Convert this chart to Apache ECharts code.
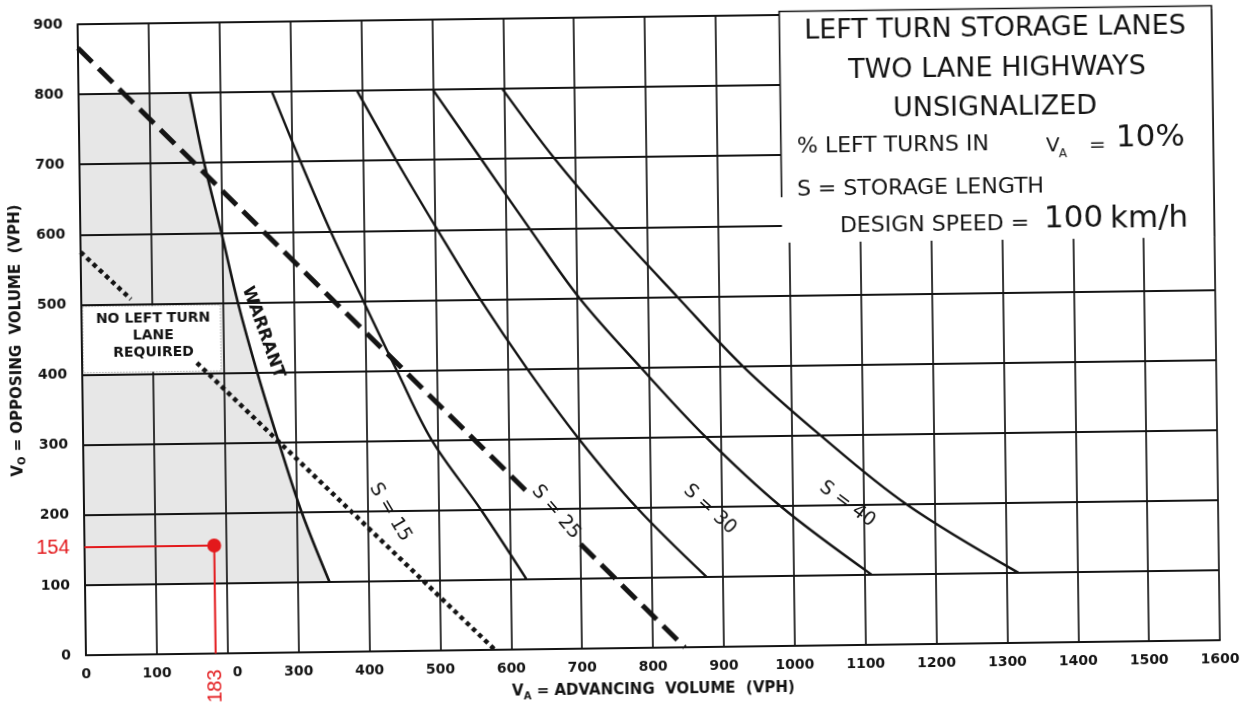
<!DOCTYPE html>
<html>
<head>
<meta charset="utf-8">
<script src="https://cdn.jsdelivr.net/npm/echarts@6/dist/echarts.min.js"></script>
<style>
html,body{margin:0;padding:0;background:#fff;overflow:hidden;}
#c{width:1259px;height:708px;transform:rotate(-0.76deg);transform-origin:50% 50%;}
</style>
</head>
<body>
<div id="c"></div>
<script>
// ---------- data ----------
const xTicks = [0,100,200,300,400,500,600,700,800,900,1000,1100,1200,1300,1400,1500,1600];
const xTickLabels = ['0','100','200','300','400','500','600','700','800','900','1000','1100','1200','1300','1400','1500','1600'];
const yTicks = [0,100,200,300,400,500,600,700,800,900];
const yTickLabels = ['0','100','200','300','400','500','600','700','800','900'];

// warrant curve (VA, VO)
const warrant = [[157,800],[176,700],[199,600],[221,500],[247,400],[276,300],[307,200],[345,100]];
// storage-length curves
const curveA = [[273,800],[312,700],[353,600],[398,500],[444,400],[492,300],[560,200],[623,100]];
const curveB = [[393,800],[447,700],[504,600],[563,500],[628,400],[699,300],[780,200],[877,100]];
const curveC = [[500,800],[567,700],[634,600],[703,500],[788,400],[878,300],[982,200],[1110,100]];
const curveD = [[598,800],[670,700],[752,600],[841,500],[932,400],[1040,300],[1160,200],[1317,100]];
// heavy dashed line (broken for its label)
const dashedPart1 = [[0,866],[632,218]];
const dashedPart2 = [[700,149],[845,0]];
// dotted line (broken for the text)
const dottedPart1 = [[0,575],[70,507]];
const dottedPart2 = [[162,415],[577,0]];
// shaded "no left turn lane" region: left edge + warrant curve
const shadeEdge = [[0,100],[0,800]];
const noLaneBox = [[2,403],[196,497]];

// curve labels
const curveLabelText = ['WARRANT','S = 15','S = 25','S = 30','S = 40'];
const curveLabelPos = [[256,457],[432,198],[666,195],[883,196],[1077,201]];
const curveLabelRotate = [-71,-60,-50,-43,-37];
const noLaneText = 'NO LEFT TURN\nLANE\nREQUIRED';
const noLanePos = [101,455];

// red reading
const readPoint = [183,154];

// title box extent (data units)
const titleBox = {x0: 990, x1: 1600, y0: 575, y1: 905, yBorder: 640};

// ---------- chart ----------
const FONT = '"DejaVu Sans", "Noto Sans", sans-serif';
const INK = '#141414';
const RED = '#e3191c';
const W = 1259, H = 708, TILT = 0.76 * Math.PI / 180;
// page is tilted like the scan: map a page pixel back into the chart frame
function unTilt(x, y) {
  const cx = W / 2, cy = H / 2, dx = x - cx, dy = y - cy;
  const c = Math.cos(TILT), s = Math.sin(TILT);
  return [cx + dx * c - dy * s, cy + dx * s + dy * c];
}
const chart = echarts.init(document.getElementById('c'));

function lineSeries(name, data, style) {
  return {
    type: 'line', name: name, data: data, symbol: 'none', z: 3,
    smooth: style.smooth || 0, clip: false,
    lineStyle: Object.assign({color: INK, width: 2.4, cap: 'butt'}, style.line || {}),
    silent: true, animation: false
  };
}

function titleText(text, px, py, size, align) {
  const p = unTilt(px, py);
  return {type: 'text', x: p[0], y: p[1], z: 10,
    style: {text: text, font: size + 'px ' + FONT, fill: INK,
      textAlign: align, textVerticalAlign: 'middle', align: align, verticalAlign: 'middle'}};
}

const shadePolygon = shadeEdge.concat(warrant);

const labelData = curveLabelText.map((t, i) => ({
  value: curveLabelPos[i],
  label: {
    show: true, formatter: t, position: 'inside', rotate: curveLabelRotate[i],
    fontSize: i === 0 ? 17 : 19, fontWeight: i === 0 ? 'bold' : 'normal',
    fontFamily: FONT, color: INK
  }
}));
labelData.push({
  value: noLanePos,
  label: {
    show: true, formatter: noLaneText, position: 'inside', align: 'center',
    fontSize: 14, fontWeight: 'bold', lineHeight: 17, fontFamily: FONT, color: INK
  }
});

const axisNameRich = {
  v: {fontSize: 15, fontWeight: 'bold', fontFamily: FONT, color: INK, lineHeight: 19, verticalAlign: 'middle'},
  s: {fontSize: 10, fontWeight: 'bold', fontFamily: FONT, color: INK, verticalAlign: 'bottom'}
};

const option = {
  animation: false,
  backgroundColor: '#fff',
  grid: {left: 82, right: 43, top: 17, bottom: 60, containLabel: false},
  xAxis: {
    type: 'value', min: 0, max: 1600, interval: 100, z: 1,
    axisLine: {show: true, lineStyle: {color: INK, width: 2}},
    axisTick: {show: false},
    splitLine: {show: true, lineStyle: {color: INK, width: 1.7}},
    axisLabel: {
      margin: 12, color: INK, fontSize: 14, fontWeight: 'bold', fontFamily: FONT,
      formatter: v => { const i = xTicks.indexOf(v); return i >= 0 ? xTickLabels[i] : ''; }
    },
    name: '{v|V}{s|A}{v| = ADVANCING  VOLUME  (VPH)}',
    nameLocation: 'middle', nameGap: 33,
    nameTextStyle: {rich: axisNameRich}
  },
  yAxis: {
    type: 'value', min: 0, max: 900, interval: 100, z: 1,
    axisLine: {show: true, lineStyle: {color: INK, width: 2}},
    axisTick: {show: false},
    splitLine: {show: true, lineStyle: {color: INK, width: 2}},
    axisLabel: {
      margin: 15, color: INK, fontSize: 14, fontWeight: 'bold', fontFamily: FONT,
      formatter: v => { const i = yTicks.indexOf(v); return i >= 0 ? yTickLabels[i] : ''; }
    },
    name: '{v|V}{s|O}{v| = OPPOSING  VOLUME  (VPH)}',
    nameLocation: 'middle', nameRotate: 90, nameGap: 53,
    nameTextStyle: {rich: axisNameRich}
  },
  graphic: [
    titleText('LEFT TURN STORAGE LANES', 995, 29, 27, 'center'),
    titleText('TWO LANE HIGHWAYS', 997, 69, 27, 'center'),
    titleText('UNSIGNALIZED', 995, 108, 27, 'center'),
    titleText('% LEFT TURNS IN', 797, 147, 22, 'left'),
    titleText('V', 1046, 146, 20, 'left'),
    titleText('A', 1059, 154, 12, 'left'),
    titleText('=', 1089, 146, 20, 'left'),
    titleText('10%', 1116, 138, 31, 'left'),
    titleText('S = STORAGE LENGTH', 797, 190, 22, 'left'),
    titleText('DESIGN SPEED =', 840, 226, 22, 'left'),
    titleText('100', 1044, 219, 31, 'left'),
    titleText('km/h', 1110, 220, 31, 'left')
  ],
  series: [
    // shaded region (under the grid lines)
    {
      type: 'custom', name: 'shade', z: 0, clip: false, silent: true, data: [0],
      renderItem: (params, api) => ({
        type: 'polygon',
        shape: {points: shadePolygon.map(p => api.coord(p))},
        style: {fill: '#e7e7e7', stroke: '#8c8c8c', lineWidth: 1, lineDash: [1, 2]}
      })
    },
    // white text area + title box (above the grid lines)
    {
      type: 'custom', name: 'boxes', z: 2, clip: false, silent: true, data: [0],
      renderItem: (params, api) => {
        const a = api.coord(noLaneBox[0]), b = api.coord(noLaneBox[1]);
        const t0 = api.coord([titleBox.x0, titleBox.y0]);
        const t1 = api.coord([titleBox.x1, titleBox.y1]);
        const tb = api.coord([titleBox.x0, titleBox.yBorder]);
        return {type: 'group', children: [
          {type: 'rect', shape: {x: a[0], y: b[1], width: b[0] - a[0], height: a[1] - b[1]},
            style: {fill: '#fff', stroke: '#9a9a9a', lineWidth: 1, lineDash: [1, 2]}},
          {type: 'rect', shape: {x: t0[0], y: t1[1], width: t1[0] - t0[0], height: t0[1] - t1[1]},
            style: {fill: '#fff', stroke: null}},
          {type: 'polyline', shape: {points: [tb, [t0[0], t1[1]], [t1[0], t1[1]], [t1[0], t0[1]]]},
            style: {fill: null, stroke: INK, lineWidth: 1.6}}
        ]};
      }
    },
    lineSeries('WARRANT', warrant, {smooth: 0.35, line: {width: 2.6}}),
    lineSeries('S = 15', curveA, {smooth: 0.35}),
    lineSeries('S = 25', curveB, {smooth: 0.35}),
    lineSeries('S = 30', curveC, {smooth: 0.35}),
    lineSeries('S = 40', curveD, {smooth: 0.35}),
    lineSeries('dashed 1', dashedPart1, {line: {width: 5, type: [20, 9]}}),
    lineSeries('dashed 2', dashedPart2, {line: {width: 5, type: [20, 9]}}),
    lineSeries('dotted 1', dottedPart1, {line: {width: 4.5, type: [4.5, 4]}}),
    lineSeries('dotted 2', dottedPart2, {line: {width: 4.5, type: [4.5, 4]}}),
    // text labels
    {
      type: 'scatter', name: 'labels', z: 4, symbolSize: 0, silent: true, clip: false,
      itemStyle: {opacity: 1},
      data: labelData
    },
    // red reading lines
    {
      type: 'line', name: 'reading', z: 5, symbol: 'none', clip: false, silent: true,
      data: [[0, readPoint[1]], readPoint, [readPoint[0], 0]],
      lineStyle: {color: RED, width: 2}
    },
    {
      type: 'scatter', name: 'reading point', z: 6, clip: false, silent: true,
      symbolSize: 14, itemStyle: {color: RED, opacity: 1},
      data: [readPoint]
    },
    {
      type: 'scatter', name: 'reading labels', z: 7, clip: false, silent: true, symbolSize: 0,
      itemStyle: {opacity: 1},
      data: [
        {value: [0, readPoint[1]], label: {show: true, formatter: String(readPoint[1]), position: 'left', distance: 15,
          color: RED, fontSize: 20, fontFamily: '"Liberation Sans", Arial, sans-serif'}},
        {value: [readPoint[0], 0], label: {show: true, formatter: String(readPoint[0]), position: 'bottom', distance: 12,
          rotate: 90, align: 'right', verticalAlign: 'middle', backgroundColor: '#fff', padding: [2, 4, 13, 4],
          color: RED, fontSize: 20, fontFamily: '"Liberation Sans", Arial, sans-serif'}}
      ]
    }
  ]
};
chart.setOption(option);
</script>
</body>
</html>
